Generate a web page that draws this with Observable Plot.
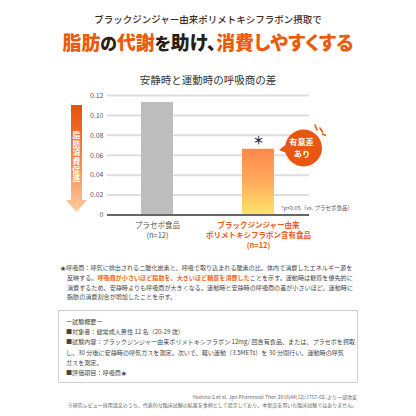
<!DOCTYPE html>
<html><head><meta charset="utf-8">
<script src="https://cdn.jsdelivr.net/npm/d3@7"></script>
<script src="https://cdn.jsdelivr.net/npm/@observablehq/plot@0.6"></script>
<style>
html,body{margin:0;padding:0;background:#fff;}
body{width:416px;height:416px;position:relative;overflow:hidden;font-family:"Noto Sans CJK JP","Noto Sans",sans-serif;color:#333;}
.abs{position:absolute;white-space:nowrap;}
.c{left:0;width:416px;text-align:center;}
.or{color:#ea5b0c;}
.dk{color:#2b1c14;}
#chart{position:absolute;left:0;top:85px;}
#overlay{position:absolute;left:0;top:0;}
.fn{left:60px;font-size:6.1px;line-height:9.8px;color:#444;}
.fn .hl{color:#f26a1b;font-weight:bold;}
.box{left:58px;top:310px;width:298px;height:71px;border:1px solid #cfcfcf;}
.box div{position:absolute;left:7px;font-size:6.1px;line-height:10.2px;color:#444;white-space:nowrap;}
.cite{right:59px;font-size:5px;line-height:8px;color:#666;text-align:right;}
.vt{left:71px;top:131px;width:11px;writing-mode:vertical-rl;font-size:7.8px;letter-spacing:0.9px;color:#fff;font-weight:bold;line-height:11px;}
.sm{font-size:0.89em;}
</style></head><body>
<div class="abs c" style="top:13px;font-size:9.5px;line-height:12px;color:#3c2a1e;font-weight:500;">ブラックジンジャー由来ポリメトキシフラボン摂取で</div>
<div id="headline" class="abs c" style="top:31px;font-size:18px;line-height:22px;font-weight:900;font-feature-settings:'palt';"><span id="hlInner"><span class="or">脂肪</span><span class="dk sm">の</span><span class="or">代謝</span><span class="dk"><span class="sm">を</span>助け、</span><span class="or">消費しやすくする</span></span></div>
<div class="abs c" style="top:73px;font-size:10.5px;line-height:14px;color:#333;">安静時と運動時の呼吸商の差</div>
<div id="chart"></div>
<svg id="overlay" width="416" height="416" viewBox="0 0 416 416">
  <defs>
    <linearGradient id="arrowGrad" x1="0" y1="0" x2="0" y2="1">
      <stop offset="0" stop-color="#e6500c"/>
      <stop offset="0.55" stop-color="#f98a4a"/>
      <stop offset="1" stop-color="#ffcba0"/>
    </linearGradient>
  </defs>
  <path d="M71,105 H82 V200 H87 L76.5,212 L66,200 H71 Z" fill="url(#arrowGrad)"/>
  <g>
    <path d="M288,143 L279,150 L289,154 Z" fill="#e8560f"/>
    <circle cx="303.5" cy="148" r="18.5" fill="#e8560f"/>
    <line x1="315" y1="125" x2="317" y2="130" stroke="#ea5b0c" stroke-width="1.6" stroke-linecap="round"/>
    <line x1="320" y1="128" x2="322.5" y2="132" stroke="#ea5b0c" stroke-width="1.6" stroke-linecap="round"/>
    <line x1="322.5" y1="134" x2="325.5" y2="135.5" stroke="#ea5b0c" stroke-width="1.6" stroke-linecap="round"/>
    <text x="301.5" y="145" text-anchor="middle" font-size="8.2" font-weight="bold" fill="#fff" font-family="Noto Sans CJK JP">有意差</text>
    <text x="302" y="157" text-anchor="middle" font-size="8.2" font-weight="bold" fill="#fff" font-family="Noto Sans CJK JP">あり</text>
  </g>
  <text x="281" y="210" font-size="5.5" fill="#555" font-family="Noto Sans CJK JP">*p&lt;0.05（vs. プラセボ食品）</text>
</svg>
<div class="abs vt">脂肪消費促進</div>

<div class="abs fn" style="top:263px;">★呼吸商：呼気に排出される二酸化炭素と、呼吸で取り込まれる酸素の比。体内で消費したエネルギー源を</div>
<div class="abs fn" style="top:272.8px;left:67px;">反映する。<span class="hl">呼吸商が小さいほど脂肪を、大きいほど糖質を消費した</span>ことを示す。運動時は糖質を優先的に</div>
<div class="abs fn" style="top:282.6px;left:67px;">消費するため、安静時よりも呼吸商が大きくなる。運動時と安静時の呼吸商の差が小さいほど、運動時に</div>
<div class="abs fn" style="top:292.4px;left:67px;">脂肪の消費割合が増加したことを示す。</div>

<div class="abs box">
  <div style="top:6px;">ー試験概要ー</div>
  <div style="top:16.2px;">■対象者：健常成人男性 12 名（20-29 歳）</div>
  <div style="top:26.4px;">■試験内容：ブラックジンジャー由来ポリメトキシフラボン 12mg/ 回含有食品、または、プラセボを摂取</div>
  <div style="top:36.6px;">し、30 分後に安静時の呼気ガスを測定。次いで、軽い運動（3.5METs）を 30 分間行い、運動時の呼気</div>
  <div style="top:46.8px;">ガスを測定。</div>
  <div style="top:57px;">■評価項目：呼吸商★</div>
</div>

<div class="abs cite" style="top:393px;">Yoshino S et al. Jpn Pharmacol Ther. 2016;44(12):1757-62. より一部改変<br>※研究レビュー採用論文のうち、代表的な臨床試験の結果を事例として提示しており、本製品を用いた臨床試験ではありません。</div>

<script>
const groups = ["placebo", "pmf"];
const groupLabels = ["プラセボ食品\n(n=12)", "ブラックジンジャー由来\nポリメトキシフラボン含有食品\n(n=12)"];
const values = [0.113, 0.066];
const significance = ["", "＊"];
const yTicks = [0, 0.02, 0.04, 0.06, 0.08, 0.10, 0.12];
const barColors = ["#bdbdbd", "url(#pmfGrad)"];

// fit headline to reference width
(function () {
  const hl = document.getElementById("headline");
  const inner = document.getElementById("hlInner");
  const w = inner.getBoundingClientRect().width;
  if (w > 0) {
    const fs = Math.min(21, Math.max(15, 18 * 291 / w));
    hl.style.fontSize = fs + "px";
  }
})();

const data = groups.map((g, i) => ({group: g, label: groupLabels[i], value: values[i], sig: significance[i]}));
const placebo = data.filter(d => d.group === "placebo");
const pmf = data.filter(d => d.group === "pmf");
const font = '"Noto Sans CJK JP","Noto Sans",sans-serif';

const chart = Plot.plot({
  width: 416, height: 170,
  marginTop: 10, marginBottom: 40.5, marginLeft: 107, marginRight: 107,
  style: {fontFamily: font, fontSize: "7px", color: "#555", background: "transparent", overflow: "visible"},
  x: {domain: groups, paddingInner: 0.68, paddingOuter: 0.34, axis: null},
  y: {domain: [0, 0.12], axis: null},
  marks: [
    Plot.gridY(yTicks.slice(1), {stroke: "#dedede", strokeWidth: 2, strokeOpacity: 1}),
    Plot.axisY(yTicks, {tickSize: 0, tickPadding: 4, label: null, fontSize: 7, tickFormat: d => d === 0 ? "0" : d.toFixed(2)}),
    Plot.barY(placebo, {x: "group", y: "value", fill: barColors[0]}),
    Plot.barY(pmf, {x: "group", y: "value", fill: barColors[1]}),
    Plot.ruleY([0], {stroke: "#666", strokeWidth: 2}),
    Plot.text(pmf, {x: "group", y: "value", text: "sig", dy: -8, fontSize: 11, fontWeight: "bold", fill: "#333"}),
    Plot.text(placebo, {x: "group", y: 0, text: "label", lineAnchor: "top", dy: 5.5, fontSize: 7.5, lineHeight: 1.35, fill: "#555"}),
    Plot.text(pmf, {x: "group", y: 0, text: "label", lineAnchor: "top", dy: 5.5, fontSize: 7.5, lineHeight: 1.35, fill: "#f05a14", fontWeight: "bold"})
  ]
});

const ns = "http://www.w3.org/2000/svg";
const defs = document.createElementNS(ns, "defs");
const grad = document.createElementNS(ns, "linearGradient");
grad.setAttribute("id", "pmfGrad");
grad.setAttribute("x1", "0"); grad.setAttribute("y1", "0");
grad.setAttribute("x2", "0"); grad.setAttribute("y2", "1");
[["0", "#ff874a"], ["0.5", "#ffac5c"], ["1", "#ffe46c"]].forEach(([o, c]) => {
  const s = document.createElementNS(ns, "stop");
  s.setAttribute("offset", o); s.setAttribute("stop-color", c);
  grad.appendChild(s);
});
defs.appendChild(grad);
chart.insertBefore(defs, chart.firstChild);
document.getElementById("chart").appendChild(chart);
</script>
</body></html>
